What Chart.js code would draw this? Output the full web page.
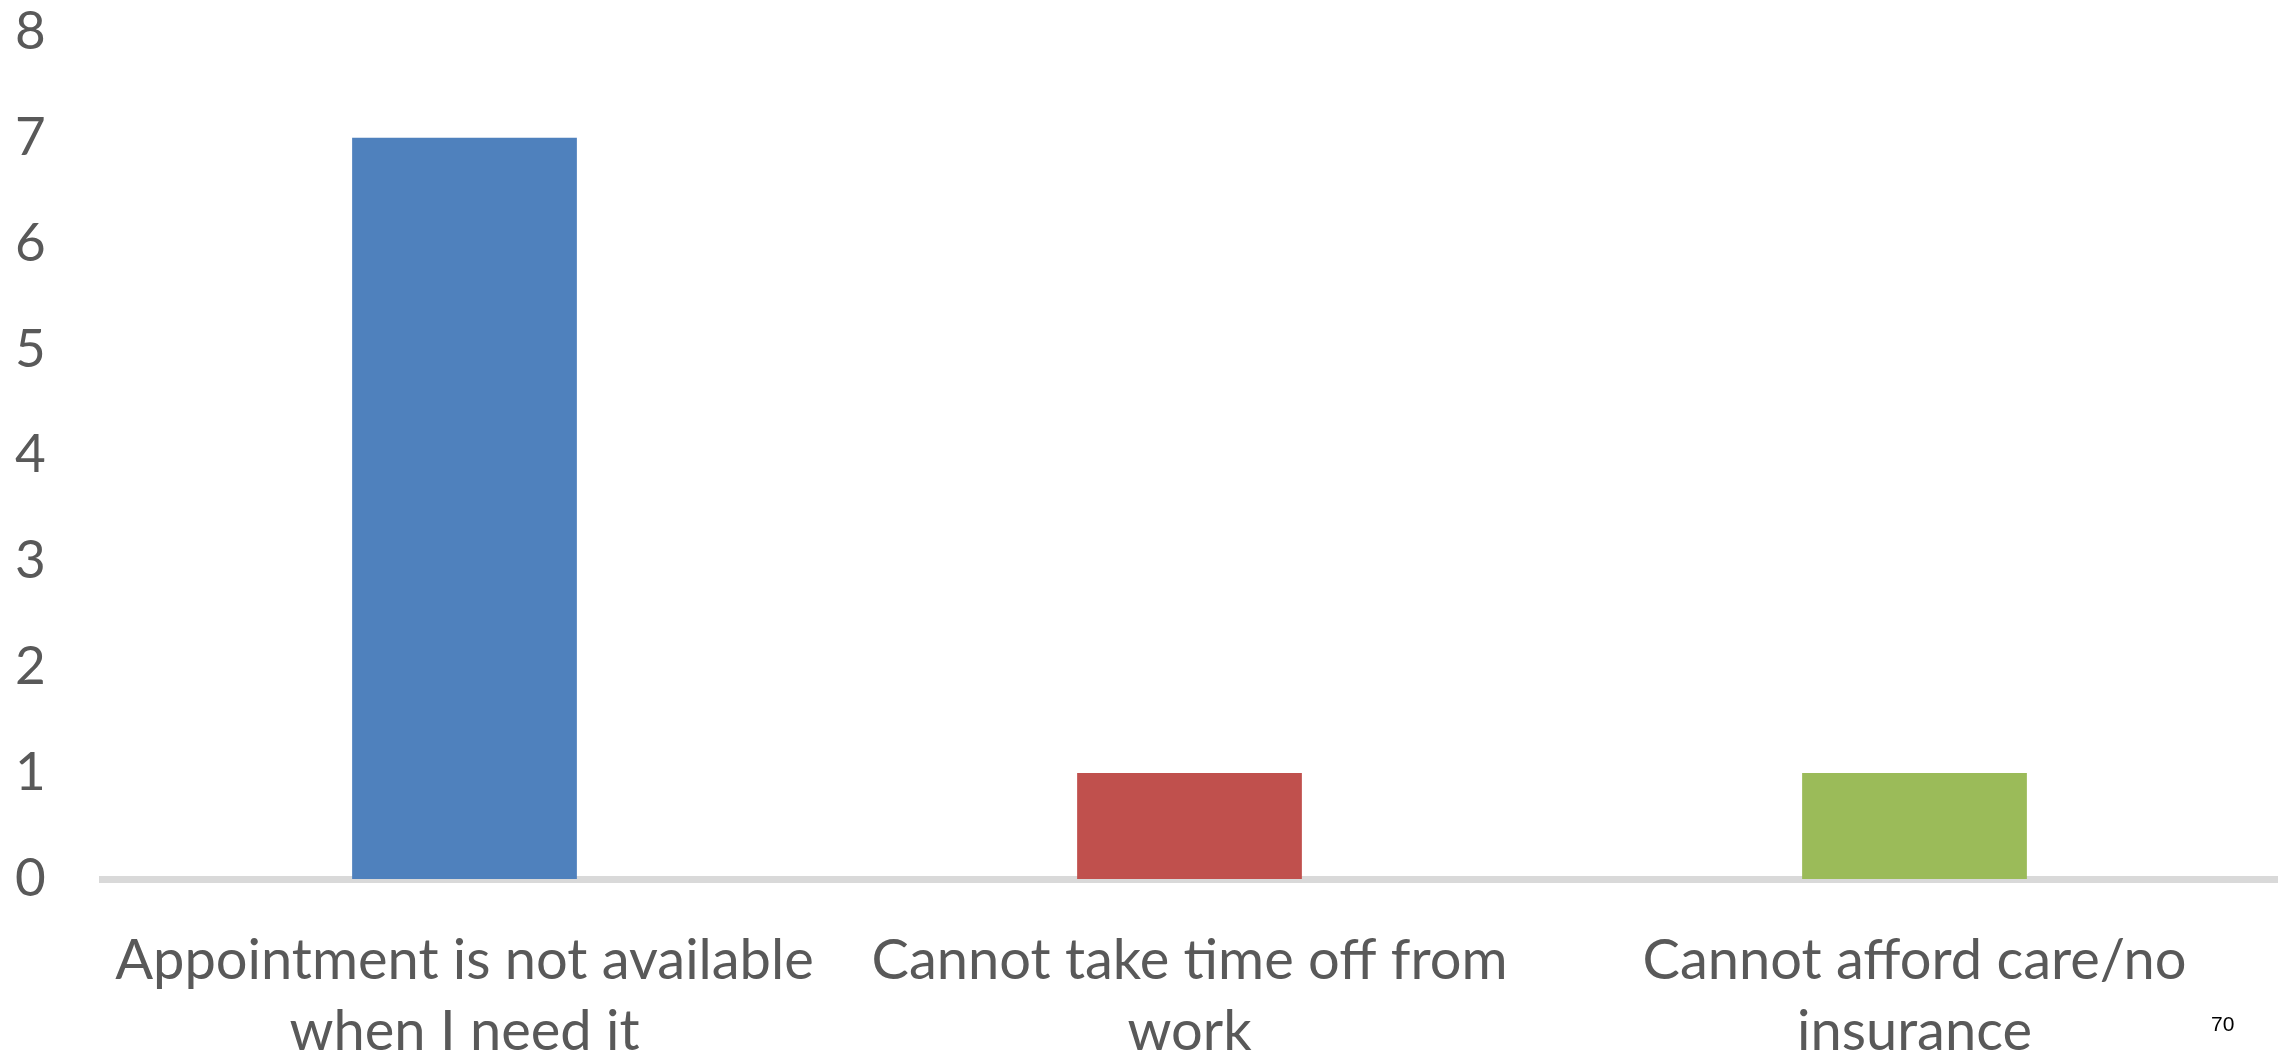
<!DOCTYPE html>
<html>
<head>
<meta charset="utf-8">
<script src="https://cdn.jsdelivr.net/npm/chart.js@4"></script>
<style>
  html, body { margin:0; padding:0; background:#fff; overflow:hidden; }
  #wrap { position:relative; width:2290px; height:1051px; }
  #pageNo { position:absolute; left:2211px; top:1012px; font-family:"Liberation Sans", Arial, sans-serif; font-size:21px; color:#000; }
</style>
</head>
<body>
<div id="wrap">
  <canvas id="chart" width="2290" height="1051"></canvas>
  <div id="pageNo">70</div>
</div>
<script>
// data
const categories = [
  ["Appointment is not available", "when I need it"],
  ["Cannot take time off from", "work"],
  ["Cannot afford care/no", "insurance"]
];
const counts = [7, 1, 1];
const barColors = ["#4F81BD", "#C0504D", "#9BBB59"];
const yTicks = [0, 1, 2, 3, 4, 5, 6, 7, 8];

const FONT = "Lato, 'Open Sans', sans-serif";
const ctx = document.getElementById("chart").getContext("2d");

new Chart(ctx, {
  type: 'bar',
  data: {
    labels: categories,
    datasets: [{
      data: counts,
      backgroundColor: barColors,
      categoryPercentage: 1,
      barPercentage: 0.31
    }]
  },
  options: {
    responsive: false,
    animation: false,
    layout: { padding: { top: 0, right: 13, left: 15, bottom: 0 } },
    plugins: { legend: { display: false }, tooltip: { enabled: false } },
    scales: {
      x: {
        z: 1,
        grid: { display: false, drawTicks: false },
        border: { display: true, color: '#d9d9d9', width: 7 },
        ticks: { color: '#595959', font: { family: FONT, size: 56, lineHeight: 1.26 }, padding: 47, maxRotation: 0, autoSkip: false },
        afterFit: s => { s.height = 172; }
      },
      y: {
        min: 0, max: 8,
        afterBuildTicks: s => { s.ticks = yTicks.map(v => ({ value: v })); },
        grid: { display: false, drawTicks: false },
        border: { display: false },
        ticks: { color: '#595959', font: { family: FONT, size: 53 }, padding: 0, crossAlign: 'far' },
        afterFit: s => { s.width = 87; }
      }
    }
  }
});
</script>
</body>
</html>
